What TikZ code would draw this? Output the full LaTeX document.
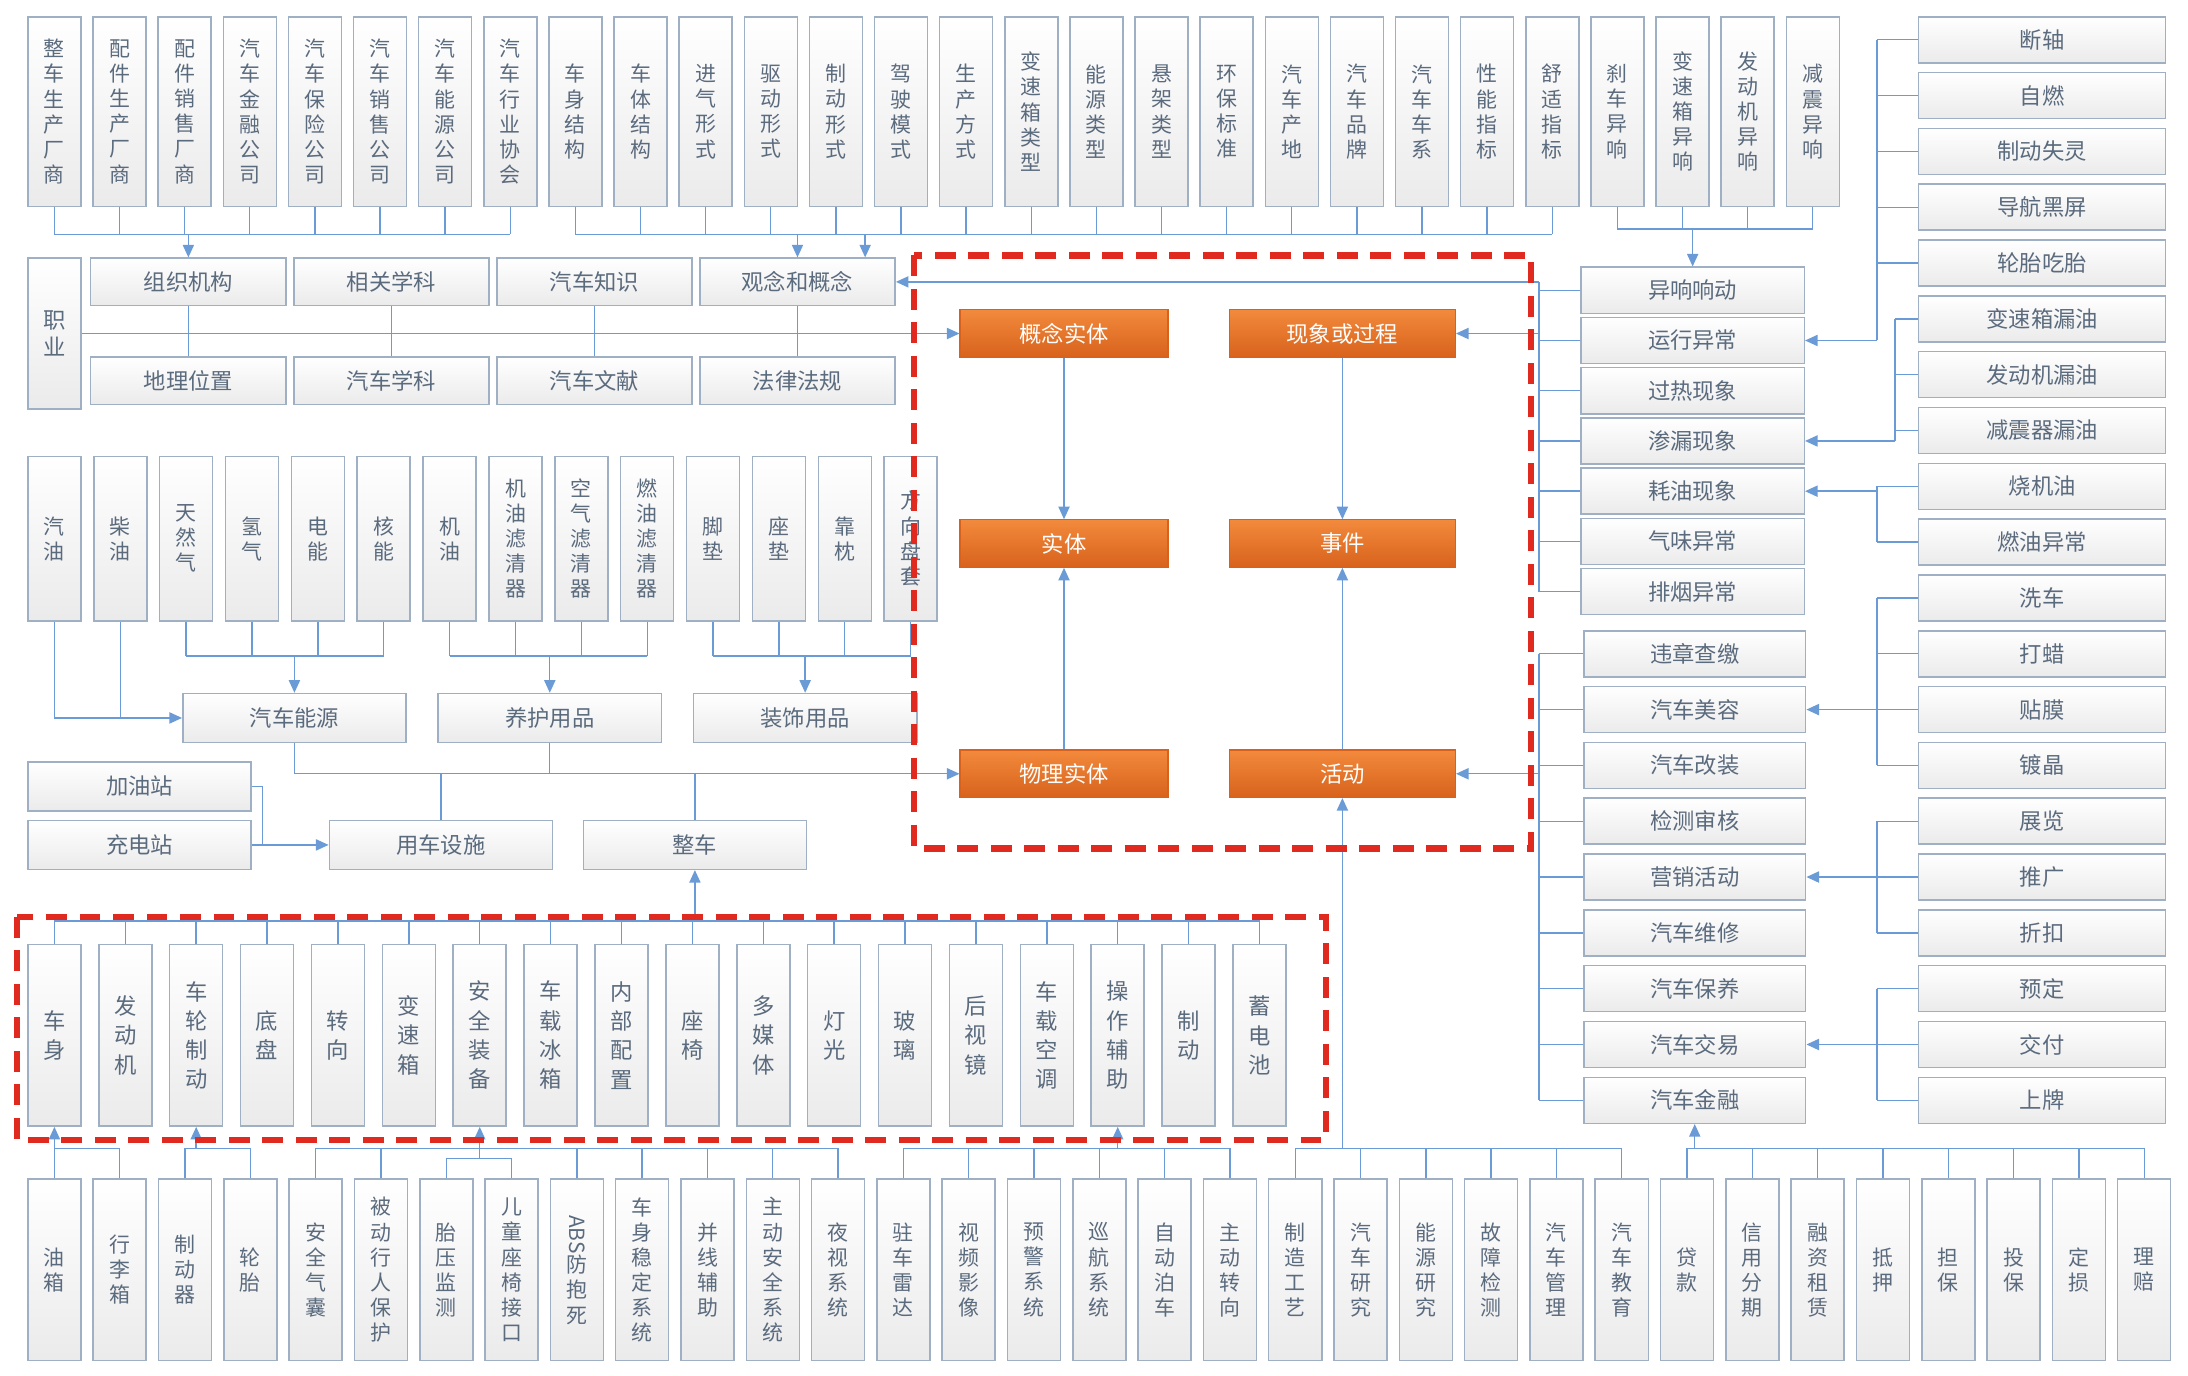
\documentclass[tikz,border=0pt]{standalone}
\usepackage{fontspec}
\setmainfont{Noto Sans CJK SC}
\usetikzlibrary{arrows.meta}
\definecolor{lnc}{HTML}{6A9BD6}
\definecolor{bdc}{HTML}{9FB0C4}
\definecolor{txc}{HTML}{5B6B7E}
\definecolor{orgl}{HTML}{F28A3C}
\definecolor{orgd}{HTML}{D8621C}
\definecolor{redd}{HTML}{E02A1F}
\tikzset{
 bx/.style={draw=bdc, line width=1.1pt, top color=white, bottom color=black!8, text=txc, inner sep=0pt},
 vbox/.style={bx, minimum width=38pt, align=center, font=\fontsize{15}{18}\selectfont},
 vboxr/.style={bx, minimum width=38pt, minimum height=130pt, align=center, font=\fontsize{16}{21}\selectfont},
 hbox/.style={bx, minimum width=140pt, minimum height=34pt, font=\fontsize{16}{18}\selectfont},
 obox/.style={draw=orgd, line width=0.8pt, top color=orgl, bottom color=orgd, text=white, minimum height=34pt, inner sep=0pt, font=\fontsize{16}{18}\selectfont},
 ln/.style={draw=lnc, line width=1pt},
 arr/.style={ln, -{Triangle[length=9pt,width=8pt]}},
 reddash/.style={draw=redd, line width=4.5pt, dash pattern=on 15pt off 9pt},
}
\begin{document}
\begin{tikzpicture}[x=1pt,y=-1pt]
\fill[white] (0,0) rectangle (1568,986);
\path[use as bounding box] (0,0) rectangle (1568,986);

% ---------- top row ----------
\foreach \t [count=\i from 0] in {整\\车\\生\\产\\厂\\商,配\\件\\生\\产\\厂\\商,配\\件\\销\\售\\厂\\商,汽\\车\\金\\融\\公\\司,汽\\车\\保\\险\\公\\司,汽\\车\\销\\售\\公\\司,汽\\车\\能\\源\\公\\司,汽\\车\\行\\业\\协\\会,车\\身\\结\\构,车\\体\\结\\构,进\\气\\形\\式,驱\\动\\形\\式,制\\动\\形\\式,驾\\驶\\模\\式,生\\产\\方\\式,变\\速\\箱\\类\\型,能\\源\\类\\型,悬\\架\\类\\型,环\\保\\标\\准,汽\\车\\产\\地,汽\\车\\品\\牌,汽\\车\\车\\系,性\\能\\指\\标,舒\\适\\指\\标,刹\\车\\异\\响,变\\速\\箱\\异\\响,发\\动\\机\\异\\响,减\\震\\异\\响}
  \node[vbox, minimum height=136pt] (t\i) at ({39+46.67*\i},80) {\t};

% ---------- knowledge block ----------
\node[bx, minimum width=38pt, minimum height=108pt, align=center, font=\fontsize{16}{19}\selectfont] (zy) at (39,239) {职\\业};
\node[hbox] (zzjg) at (135,202) {组织机构};
\node[hbox] (xgxk) at (280.5,202) {相关学科};
\node[hbox] (qczs) at (426,202) {汽车知识};
\node[hbox] (gn) at (571.5,202) {观念和概念};
\node[hbox] (dlwz) at (135,273) {地理位置};
\node[hbox] (qcxk) at (280.5,273) {汽车学科};
\node[hbox] (qcwx) at (426,273) {汽车文献};
\node[hbox] (flfg) at (571.5,273) {法律法规};

% ---------- middle row ----------
\foreach \t [count=\i from 0] in {汽\\油,柴\\油,天\\然\\气,氢\\气,电\\能,核\\能,机\\油,机\\油\\滤\\清\\器,空\\气\\滤\\清\\器,燃\\油\\滤\\清\\器,脚\\垫,座\\垫,靠\\枕,方\\向\\盘\\套}
  \node[vbox, minimum height=118pt] (m\i) at ({39+47.2*\i},386) {\t};

\node[hbox, minimum width=160pt, minimum height=35pt] (qcny) at (211,514.5) {汽车能源};
\node[hbox, minimum width=160pt, minimum height=35pt] (yhyp) at (394,514.5) {养护用品};
\node[hbox, minimum width=160pt, minimum height=35pt] (zsyp) at (577,514.5) {装饰用品};
\node[hbox, minimum width=160pt, minimum height=35pt] (jyz) at (100,563.5) {加油站};
\node[hbox, minimum width=160pt, minimum height=35pt] (cdz) at (100,605.5) {充电站};
\node[hbox, minimum width=160pt, minimum height=35pt] (ycss) at (316,605.5) {用车设施};
\node[hbox, minimum width=160pt, minimum height=35pt] (zc) at (498,605.5) {整车};

% ---------- core ----------
\node[obox, minimum width=149pt] (gnst) at (762.5,239) {概念实体};
\node[obox, minimum width=162pt] (xx) at (962,239) {现象或过程};
\node[obox, minimum width=149pt] (st) at (762.5,389.5) {实体};
\node[obox, minimum width=162pt] (sj) at (962,389.5) {事件};
\node[obox, minimum width=149pt] (wlst) at (762.5,554.5) {物理实体};
\node[obox, minimum width=162pt] (hd) at (962,554.5) {活动};

% ---------- right columns ----------
\foreach \t [count=\i from 0] in {异响响动,运行异常,过热现象,渗漏现象,耗油现象,气味异常,排烟异常}
  \node[hbox, minimum width=160pt, minimum height=33pt] (a\i) at (1213,{208+36*\i}) {\t};
\foreach \t [count=\i from 0] in {违章查缴,汽车美容,汽车改装,检测审核,营销活动,汽车维修,汽车保养,汽车交易,汽车金融}
  \node[hbox, minimum width=159pt, minimum height=33pt] (c\i) at (1214.5,{468.5+40*\i}) {\t};
\foreach \t [count=\i from 0] in {断轴,自燃,制动失灵,导航黑屏,轮胎吃胎,变速箱漏油,发动机漏油,减震器漏油,烧机油,燃油异常,洗车,打蜡,贴膜,镀晶,展览,推广,折扣,预定,交付,上牌}
  \node[hbox, minimum width=177pt, minimum height=33pt] (f\i) at (1463.5,{28.5+40*\i}) {\t};

% ---------- red-box row ----------
\foreach \t [count=\i from 0] in {车\\身,发\\动\\机,车\\轮\\制\\动,底\\盘,转\\向,变\\速\\箱,安\\全\\装\\备,车\\载\\冰\\箱,内\\部\\配\\置,座\\椅,多\\媒\\体,灯\\光,玻\\璃,后\\视\\镜,车\\载\\空\\调,操\\作\\辅\\助,制\\动,蓄\\电\\池}
  \node[vboxr] (r\i) at ({39+50.8*\i},742) {\t};

% ---------- bottom row ----------
\foreach \t [count=\i from 0] in {油\\箱,行\\李\\箱,制\\动\\器,轮\\胎,安\\全\\气\\囊,被\\动\\行\\人\\保\\护,胎\\压\\监\\测,儿\\童\\座\\椅\\接\\口,{\rotatebox[origin=c]{-90}{ABS}\\防\\抱\\死},车\\身\\稳\\定\\系\\统,并\\线\\辅\\助,主\\动\\安\\全\\系\\统,夜\\视\\系\\统,驻\\车\\雷\\达,视\\频\\影\\像,预\\警\\系\\统,巡\\航\\系\\统,自\\动\\泊\\车,主\\动\\转\\向,制\\造\\工\\艺,汽\\车\\研\\究,能\\源\\研\\究,故\\障\\检\\测,汽\\车\\管\\理,汽\\车\\教\\育,贷\\款,信\\用\\分\\期,融\\资\\租\\赁,抵\\押,担\\保,投\\保,定\\损,理\\赔}
  \node[vbox, minimum height=130pt] (b\i) at ({39+46.8*\i},910) {\t};

% ---------- helper coordinates ----------
\coordinate (yT) at (0,168);
\coordinate (yT2) at (0,164);
\coordinate (rx) at (1103,0);
\coordinate (fx) at (1345,0);
\coordinate (fx2) at (1358,0);
\coordinate (yM) at (0,470);
\coordinate (yP) at (0,554.5);
\coordinate (jx) at (188,0);
\coordinate (yR) at (0,660);
\coordinate (yB) at (0,823);
\coordinate (yB2) at (0,830);
\coordinate (g2) at (620,168);
\coordinate (rb) at (1103,202);

% ---------- top connectors ----------
\foreach \i in {0,...,23} \draw[ln] (t\i.south) -- (t\i.south |- yT);
\draw[ln] (t0.south |- yT) -- (t7.south |- yT);
\draw[arr] (zzjg.north |- yT) -- (zzjg.north);
\draw[ln] (t8.south |- yT) -- (t23.south |- yT);
\draw[arr] (gn.north |- yT) -- (gn.north);
\draw[arr] (g2) -- (g2 |- gn.north);
\foreach \i in {24,...,27} \draw[ln] (t\i.south) -- (t\i.south |- yT2);
\draw[ln] (t24.south |- yT2) -- (t27.south |- yT2);
\draw[arr] (a0.north |- yT2) -- (a0.north);

% ---------- knowledge connectors ----------
\draw[arr] (zy.east) -- (gnst.west);
\draw[ln] (zzjg.south) -- (dlwz.north);
\draw[ln] (xgxk.south) -- (qcxk.north);
\draw[ln] (qczs.south) -- (qcwx.north);
\draw[ln] (gn.south) -- (flfg.north);
\draw[arr] (rb) -- (gn.east);

% ---------- core connectors ----------
\draw[arr] (gnst.south) -- (st.north);
\draw[arr] (xx.south) -- (sj.north);
\draw[arr] (wlst.north) -- (st.south);
\draw[arr] (hd.north) -- (sj.south);

% ---------- right bus ----------
\foreach \i in {0,...,6} \draw[ln] (a\i.west) -- (a\i.west -| rx);
\draw[ln] (rb) -- (a6.west -| rx);
\draw[arr] (xx.east -| rx) -- (xx.east);
\foreach \i in {0,...,8} \draw[ln] (c\i.west) -- (c\i.west -| rx);
\draw[ln] (c0.west -| rx) -- (c8.west -| rx);
\draw[arr] (hd.east -| rx) -- (hd.east);

% ---------- far-right buses ----------
\foreach \i in {0,...,4,8,9,10,11,12,13,14,15,16,17,18,19} \draw[ln] (f\i.west) -- (f\i.west -| fx);
\foreach \i in {5,6,7} \draw[ln] (f\i.west) -- (f\i.west -| fx2);
\draw[ln] (f0.west -| fx) -- (a1.east -| fx);
\draw[arr] (a1.east -| fx) -- (a1.east);
\draw[ln] (f5.west -| fx2) -- (a3.east -| fx2);
\draw[arr] (a3.east -| fx2) -- (a3.east);
\draw[ln] (f8.west -| fx) -- (f9.west -| fx);
\draw[arr] (a4.east -| fx) -- (a4.east);
\draw[ln] (f10.west -| fx) -- (f13.west -| fx);
\draw[arr] (c1.east -| fx) -- (c1.east);
\draw[ln] (f14.west -| fx) -- (f16.west -| fx);
\draw[arr] (c4.east -| fx) -- (c4.east);
\draw[ln] (f17.west -| fx) -- (f19.west -| fx);
\draw[arr] (c7.east -| fx) -- (c7.east);

% ---------- middle connectors ----------
\draw[arr] (m0.south) |- (qcny.west);
\draw[ln] (m1.south) -- (m1.south |- qcny.west);
\foreach \i in {2,...,13} \draw[ln] (m\i.south) -- (m\i.south |- yM);
\draw[ln] (m2.south |- yM) -- (m5.south |- yM);
\draw[arr] (qcny.north |- yM) -- (qcny.north);
\draw[ln] (m6.south |- yM) -- (m9.south |- yM);
\draw[arr] (yhyp.north |- yM) -- (yhyp.north);
\draw[ln] (m10.south |- yM) -- (m13.south |- yM);
\draw[arr] (zsyp.north |- yM) -- (zsyp.north);

\draw[ln] (qcny.south) -- (qcny.south |- yP);
\draw[ln] (yhyp.south) -- (yhyp.south |- yP);
\draw[arr] (qcny.south |- yP) -- (wlst.west);
\draw[ln] (ycss.north) -- (ycss.north |- yP);
\draw[ln] (zc.north) -- (zc.north |- yP);
\draw[ln] (jyz.east) -| (cdz.east -| jx);
\draw[arr] (cdz.east) -- (ycss.west);

% ---------- red row connectors ----------
\foreach \i in {0,...,17} \draw[ln] (r\i.north) -- (r\i.north |- yR);
\draw[ln] (r0.north |- yR) -- (r17.north |- yR);
\draw[arr] (zc.south |- yR) -- (zc.south);

% ---------- bottom connectors ----------
\foreach \i in {0,...,5,8,9,10,11,12,13,14,15,16,17,18,19,20,21,22,23,24,25,26,27,28,29,30,31,32} \draw[ln] (b\i.north) -- (b\i.north |- yB);
\foreach \i in {6,7} \draw[ln] (b\i.north) -- (b\i.north |- yB2);
\draw[ln] (b0.north |- yB) -- (b1.north |- yB);
\draw[arr] (r0.south |- yB) -- (r0.south);
\draw[ln] (b2.north |- yB) -- (b3.north |- yB);
\draw[arr] (r2.south |- yB) -- (r2.south);
\draw[ln] (b4.north |- yB) -- (b12.north |- yB);
\draw[ln] (b6.north |- yB2) -- (b7.north |- yB2);
\draw[ln] (r6.south |- yB2) -- (r6.south |- yB);
\draw[arr] (r6.south |- yB) -- (r6.south);
\draw[ln] (b13.north |- yB) -- (b18.north |- yB);
\draw[arr] (r15.south |- yB) -- (r15.south);
\draw[ln] (b19.north |- yB) -- (b24.north |- yB);
\draw[arr] (hd.south |- yB) -- (hd.south);
\draw[ln] (b25.north |- yB) -- (b32.north |- yB);
\draw[arr] (c8.south |- yB) -- (c8.south);

% ---------- red dashed frames ----------
\draw[reddash] (655,183) rectangle (1097,608);
\draw[reddash] (12,657) rectangle (950,817);
\end{tikzpicture}
\end{document}
